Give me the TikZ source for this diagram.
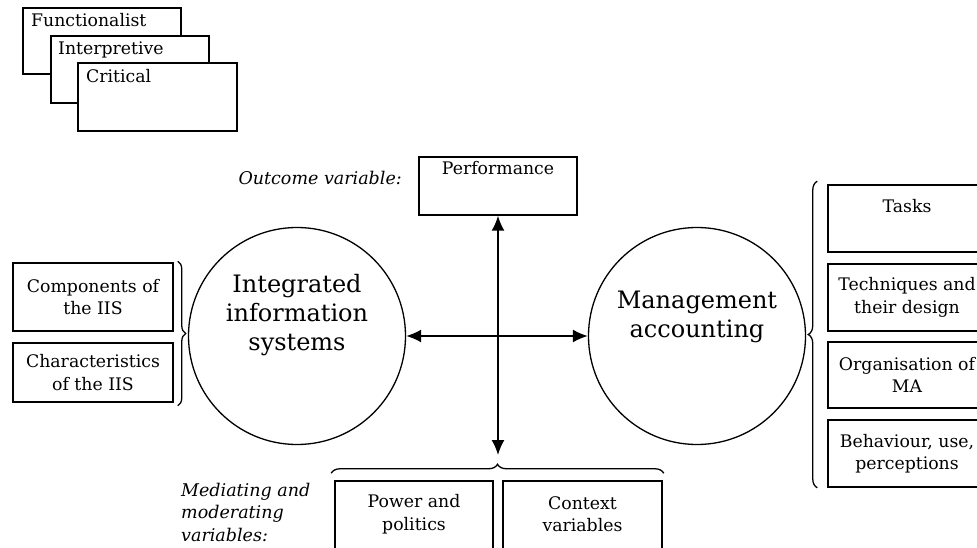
\documentclass[tikz,border=0pt]{standalone}
\usepackage{fontspec}
\setmainfont{DejaVu Serif}
\usetikzlibrary{arrows.meta,decorations.pathreplacing}
\begin{document}
\begin{tikzpicture}[x=1pt,y=-1pt,
  box/.style={draw, line width=1.5pt, fill=white, inner sep=0pt, minimum width=158pt},
  txt/.style={font=\fontsize{17.3}{22.5}\selectfont, align=center, inner sep=0pt},
  big/.style={font=\fontsize{24}{29}\selectfont, align=center, inner sep=0pt},
  ital/.style={font=\fontsize{17.5}{22.5}\selectfont\itshape, inner sep=0pt},
  circ/.style={draw, circle, line width=1.3pt, minimum size=217pt, inner sep=0pt},
  arr/.style={line width=1.7pt, {Latex[length=15pt,width=13pt]}-{Latex[length=15pt,width=13pt]}},
  brc/.style={decorate, line width=1.3pt, decoration={brace, amplitude=#1}},
]
\useasboundingbox (0,0) rectangle (977,548);

% stacked paradigm boxes
\node[box, minimum height=66pt] (func) at (102,41) {};
\node[txt, anchor=base west] (functxt) at (31,27) {Functionalist};
\node[box, minimum height=67pt] (interp) at (130,69.5) {};
\node[txt, anchor=base west] (interptxt) at (58,55) {Interpretive};
\node[box, minimum height=68pt, minimum width=159pt] (crit) at (157.5,97) {};
\node[txt, anchor=base west] (crittxt) at (86,83) {Critical};

% outcome
\node[box, minimum height=58pt] (perf) at (498,186) {};
\node[txt, anchor=base] (perftxt) at (498,175) {Performance};
\node[ital, anchor=base east] (outlbl) at (402,185) {Outcome variable:};

% circles
\node[circ] (iis) at (297,336) {};
\node[big] (iistxt) at (297,315) {Integrated\\information\\systems};
\node[circ] (ma) at (697,336) {};
\node[big] (matxt) at (697,317) {Management\\accounting};

% left boxes
\node[box, minimum width=160pt, minimum height=68pt, txt] (comp) at (93,297) {Components of\\the IIS};
\node[box, minimum width=160pt, minimum height=59pt, txt] (char) at (93,372.5) {Characteristics\\of the IIS};

% right boxes
\node[box, minimum height=67pt] (tasks) at (907,218.5) {};
\node[txt, anchor=base] (taskstxt) at (907,212) {Tasks};
\node[box, minimum height=67pt, txt] (tech) at (907,297.5) {Techniques and\\their design};
\node[box, minimum height=66pt, txt] (org) at (907,375) {Organisation of\\MA};
\node[box, minimum height=67pt, txt] (beh) at (907,453.5) {Behaviour, use,\\perceptions};

% bottom boxes
\node[box, minimum height=79pt] (power) at (414,520.5) {};
\node[txt] (powertxt) at (414,514) {Power and\\politics};
\node[box, minimum height=79pt, minimum width=159pt] (ctx) at (582.5,520.5) {};
\node[txt] (ctxtxt) at (582.5,514) {Context\\variables};
\node[ital, align=left, anchor=west] (medlbl) at (181,512) {Mediating and\\moderating\\variables:};

% braces (xshift/yshift are page shifts: positive yshift is upward)
\draw[brc=8] ([xshift=4pt,yshift=1pt]comp.north east) -- ([xshift=4pt,yshift=-3pt]char.south east);
\draw[brc=9] ([xshift=-10pt]beh.south west) -- ([xshift=-10pt,yshift=3pt]tasks.north west);
\draw[brc=9] ([xshift=-3pt,yshift=7pt]power.north west) -- ([xshift=1pt,yshift=7pt]ctx.north east);

% connectors
\coordinate (vbot) at (498,455);
\draw[arr] (perf.south) -- (vbot);
\draw[arr] (iis.east) -- (ma.west);
\end{tikzpicture}
\end{document}
